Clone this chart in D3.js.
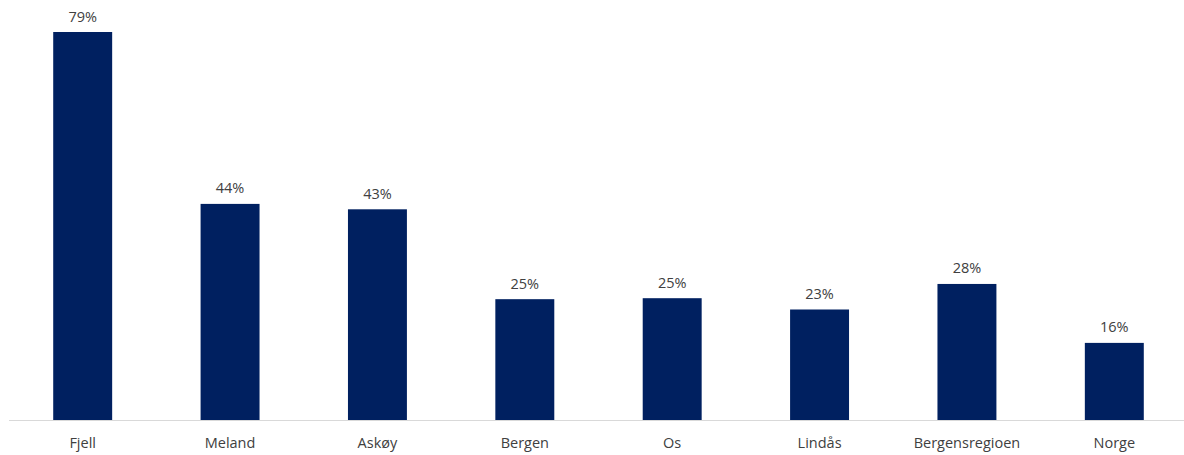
<!DOCTYPE html>
<html>
<head>
<meta charset="utf-8">
<script src="https://cdn.jsdelivr.net/npm/d3@7"></script>
<style>
  body { margin: 0; background: #fff; }
  svg text { font-family: "Open Sans", sans-serif; fill: #404040; }
</style>
</head>
<body>
<div id="chart"></div>
<script>
(() => {
const categories = ['Fjell', 'Meland', 'Askøy', 'Bergen', 'Os', 'Lindås', 'Bergensregioen', 'Norge'];
const values = [79, 44.0, 42.9, 24.6, 24.8, 22.5, 27.7, 15.7];

const width = 1184;
const height = 455;
const margin = { top: 0, right: -4, bottom: 35, left: 9 };
const baseline = 420;

const svg = d3.select('#chart')
    .append('svg')
    .attr('width', width)
    .attr('height', height);

const x = d3.scaleBand()
    .domain(categories)
    .range([margin.left, width - margin.right])
    .paddingInner(0.6)
    .paddingOuter(0.3);

// 79% reaches y=32
const y = d3.scaleLinear()
    .domain([0, 79])
    .range([baseline, 32]);

const data = categories.map((c, i) => ({ label: c, value: values[i] }));

svg.selectAll('rect.bar')
    .data(data)
    .enter()
    .append('rect')
    .attr('class', 'bar')
    .attr('x', d => x(d.label))
    .attr('y', d => y(d.value))
    .attr('width', x.bandwidth())
    .attr('height', d => y(0) - y(d.value))
    .attr('fill', '#002060');

svg.append('line')
    .attr('x1', margin.left)
    .attr('x2', width)
    .attr('y1', baseline + 0.5)
    .attr('y2', baseline + 0.5)
    .attr('stroke', '#d9d9d9')
    .attr('stroke-width', 1);

svg.selectAll('text.value')
    .data(data)
    .enter()
    .append('text')
    .attr('class', 'value')
    .attr('x', d => x(d.label) + x.bandwidth() / 2)
    .attr('y', d => y(d.value) - 10.5)
    .attr('text-anchor', 'middle')
    .style('font-size', '14.5px')
    .text(d => `${Math.round(d.value)}%`);

svg.selectAll('text.cat')
    .data(data)
    .enter()
    .append('text')
    .attr('class', 'cat')
    .attr('x', d => x(d.label) + x.bandwidth() / 2)
    .attr('y', 448)
    .attr('text-anchor', 'middle')
    .style('font-size', '14.5px')
    .text(d => d.label);
})()
</script>
</body>
</html>
